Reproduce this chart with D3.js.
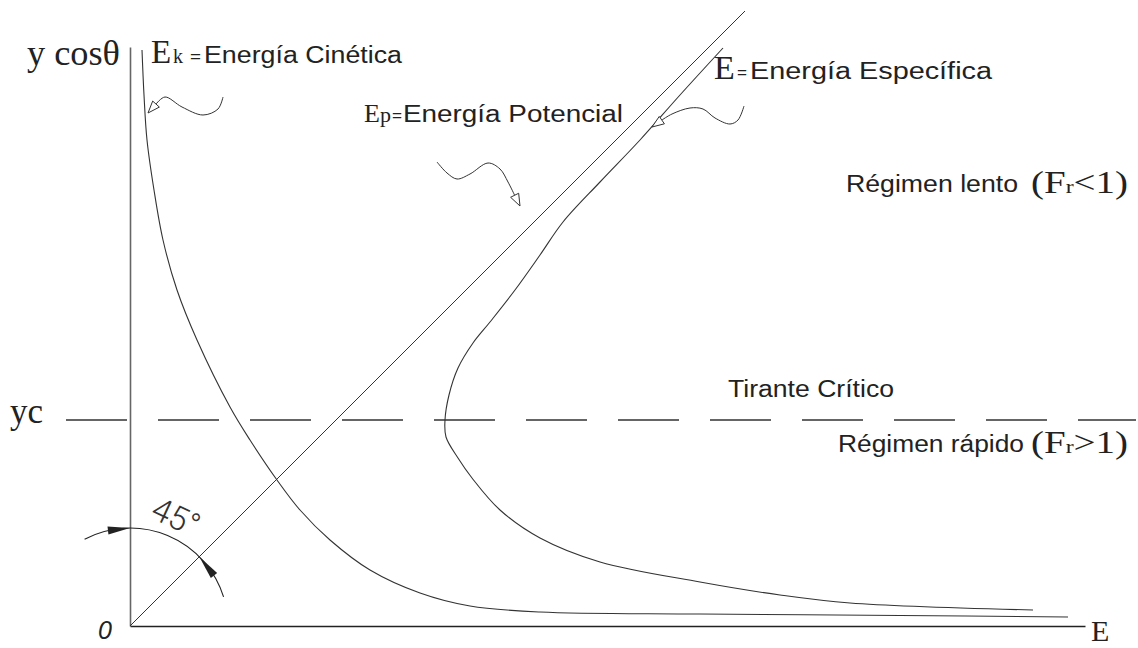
<!DOCTYPE html>
<html>
<head>
<meta charset="utf-8">
<script src="https://cdn.jsdelivr.net/npm/d3@7"></script>
<style>
  body { margin: 0; background: #fff; }
</style>
</head>
<body>
<svg id="chart"></svg>
<script>
// curva de energía cinética Ek (E, y cosθ)
const ekE = [0.12, 0.14, 0.17, 0.24, 0.33, 0.47, 0.67, 1.00, 1.20, 1.47, 1.70, 2.00, 2.40, 2.90, 3.40, 4.10, 5.70, 7.70, 9.38];
const ekY = [5.76, 5.31, 4.86, 4.36, 3.86, 3.36, 2.86, 2.19, 1.86, 1.46, 1.16, 0.86, 0.56, 0.33, 0.20, 0.14, 0.12, 0.105, 0.09];
// curva de energía específica E
const eE = [5.93, 5.50, 5.10, 4.70, 4.33, 4.10, 3.85, 3.60, 3.43, 3.28, 3.19, 3.15, 3.16, 3.28, 3.42, 3.70, 4.10, 4.70, 5.70, 6.50, 7.20, 9.03];
const eY = [5.78, 5.31, 4.86, 4.44, 4.04, 3.71, 3.36, 3.04, 2.83, 2.58, 2.31, 2.06, 1.89, 1.68, 1.48, 1.16, 0.88, 0.64, 0.44, 0.31, 0.23, 0.16];
// energía potencial Ep = y (recta a 45°)
const epE = [0, 6.15];
const epY = [0, 6.15];
// tirante crítico
const yc = 2.06;
const ycFrom = -0.64, ycTo = 10.06;
// flechas onduladas (último punto = punta)
const leaderEk = [[0.93, 5.29], [0.88, 5.17], [0.73, 5.11], [0.52, 5.19], [0.35, 5.29], [0.27, 5.23], [0.18, 5.13]];
const leaderEp = [[3.07, 4.64], [3.17, 4.53], [3.27, 4.47], [3.40, 4.52], [3.58, 4.63], [3.70, 4.57], [3.78, 4.44], [3.84, 4.32], [3.90, 4.20]];
const leaderE  = [[6.14, 5.20], [6.08, 5.06], [6.00, 5.02], [5.85, 5.08], [5.73, 5.17], [5.60, 5.18], [5.42, 5.12], [5.32, 5.06], [5.22, 4.99]];
// cota del ángulo
const arcR = 0.98;
const arcFrom = 117.6, arcTo = 17.3;
const arcArrows = [90, 45];

const width = 1138, height = 648;
const serif = "Liberation Serif, DejaVu Serif, serif";
const sans = "Liberation Sans, Arial, sans-serif";
const ink = "#333";

const svg = d3.select("#chart").attr("width", width).attr("height", height);

// escalas con la misma cantidad de px por unidad en ambos ejes
let x = d3.scaleLinear().domain([0, 9.55]).range([130, 1085]);
let y = d3.scaleLinear().domain([0, 5.79]).range([626, 47]);

let curve = d3.line()
  .x(d => x(d[0]))
  .y(d => y(d[1]))
  .curve(d3.curveCatmullRom.alpha(0.5));
let straight = d3.line().x(d => x(d[0])).y(d => y(d[1]));

// ejes sin marcas
svg.append("g")
  .attr("class", "x-axis")
  .attr("transform", `translate(0, ${y(0)})`)
  .call(d3.axisBottom(x).tickValues([]).tickSizeOuter(0))
  .select(".domain").attr("stroke", "#222").attr("stroke-width", 1.4);
svg.append("g")
  .attr("class", "y-axis")
  .attr("transform", `translate(${x(0)}, 0)`)
  .call(d3.axisLeft(y).tickValues([]).tickSizeOuter(0))
  .select(".domain").attr("stroke", "#666").attr("stroke-width", 1.6);

// tirante crítico (línea de trazos)
svg.append("path")
  .attr("d", straight([[ycFrom, yc], [ycTo, yc]]))
  .attr("fill", "none")
  .attr("stroke", "#333")
  .attr("stroke-width", 1.3)
  .attr("stroke-dasharray", "61,31");

// Ep
svg.append("path")
  .attr("d", straight(epE.map((d, i) => [d, epY[i]])))
  .attr("fill", "none").attr("stroke", ink).attr("stroke-width", 1);
// Ek
svg.append("path")
  .attr("d", curve(ekE.map((d, i) => [d, ekY[i]])))
  .attr("fill", "none").attr("stroke", ink).attr("stroke-width", 1.1);
// E
svg.append("path")
  .attr("d", curve(eE.map((d, i) => [d, eY[i]])))
  .attr("fill", "none").attr("stroke", ink).attr("stroke-width", 1.1);

// flechas con punta abierta
function leader(pts) {
  let tip = pts[pts.length - 1], prev = pts[pts.length - 2];
  let tx = x(tip[0]), ty = y(tip[1]);
  let dx = tx - x(prev[0]), dy = ty - y(prev[1]);
  let len = Math.hypot(dx, dy);
  dx /= len; dy /= len;
  let L = 12, W = 4.5;
  let bx = tx - dx * L, by = ty - dy * L;
  let body = pts.slice(0, -1).map(d => [x(d[0]), y(d[1])]);
  body[body.length - 1] = [bx, by];
  svg.append("path")
    .attr("d", d3.line().curve(d3.curveCatmullRom.alpha(0.5))(body))
    .attr("fill", "none").attr("stroke", ink).attr("stroke-width", 1);
  svg.append("path")
    .attr("d", `M${tx},${ty}L${bx - dy * W},${by + dx * W}L${bx + dy * W},${by - dx * W}Z`)
    .attr("fill", "#fff").attr("stroke", ink).attr("stroke-width", 1);
}
leader(leaderEk);
leader(leaderEp);
leader(leaderE);

// arco del ángulo de 45°
let cx = x(0), cy = y(0), r = x(arcR) - x(0);
let rad = a => -a * Math.PI / 180;
let arcPath = d3.path();
arcPath.arc(cx, cy, r, rad(arcFrom), rad(arcTo), false);
svg.append("path").attr("d", arcPath.toString())
  .attr("fill", "none").attr("stroke", "#222").attr("stroke-width", 1.1);
arcArrows.forEach((a, i) => {
  let back = i === 0 ? a + 13 : a - 14;
  let pt = ang => [cx + r * Math.cos(ang * Math.PI / 180), cy - r * Math.sin(ang * Math.PI / 180)];
  let [tx, ty] = pt(a), [bx, by] = pt(back);
  let dx = tx - bx, dy = ty - by, len = Math.hypot(dx, dy);
  dx /= len; dy /= len;
  let W = 4;
  svg.append("path")
    .attr("d", `M${tx},${ty}L${bx - dy * W},${by + dx * W}L${bx + dy * W},${by - dx * W}Z`)
    .attr("fill", "#222");
});

// textos
function addText(str, px, py, size, family, len, extra) {
  let t = svg.append("text")
    .attr("x", px).attr("y", py)
    .attr("font-family", family)
    .attr("font-size", size)
    .attr("fill", "#222")
    .text(str);
  if (len) t.attr("textLength", len).attr("lengthAdjust", "spacingAndGlyphs");
  if (extra) extra(t);
  return t;
}

addText("y cosθ", 27, 65, 36, serif, 93);
addText("E", 151, 63, 33, serif);
addText("k", 173, 63, 21, serif, 10);
addText("=", 190, 62, 17, sans, 11);
addText("Energía Cinética", 204, 63, 23, sans, 198);

addText("E", 364, 122, 26, serif);
addText("p", 380, 122, 21, serif, 11);
addText("=", 392, 121, 17, sans, 10);
addText("Energía Potencial", 403, 122, 23, sans, 220);

addText("E", 714, 79, 34, serif);
addText("=", 737, 78, 17, sans, 10);
addText("Energía Específica", 750, 79, 23, sans, 242);

addText("Régimen lento", 846, 192, 23, sans, 172);
let fr1 = addText("", 1031, 193, 31, serif, 97);
fr1.append("tspan").text("(F");
fr1.append("tspan").attr("font-size", 19).text("r");
fr1.append("tspan").text("<1)");

addText("Tirante Crítico", 728, 397, 23, sans, 166);

addText("Régimen rápido", 838, 452, 23, sans, 186);
let fr2 = addText("", 1031, 453, 31, serif, 97);
fr2.append("tspan").text("(F");
fr2.append("tspan").attr("font-size", 19).text("r");
fr2.append("tspan").text(">1)");

addText("yc", 10, 423, 36, serif, 33);
addText("0", 98, 639, 25, sans, null, t => t.attr("font-style", "italic"));
addText("E", 1091, 641, 30, serif);

// 45°
svg.append("text")
  .attr("transform", "translate(176,517) rotate(25)")
  .attr("text-anchor", "middle")
  .attr("dominant-baseline", "central")
  .attr("font-family", "Roboto, DejaVu Sans, sans-serif")
  .attr("font-weight", 300)
  .attr("font-size", 33)
  .attr("fill", "#333")
  .text("45°");
</script>
</body>
</html>
